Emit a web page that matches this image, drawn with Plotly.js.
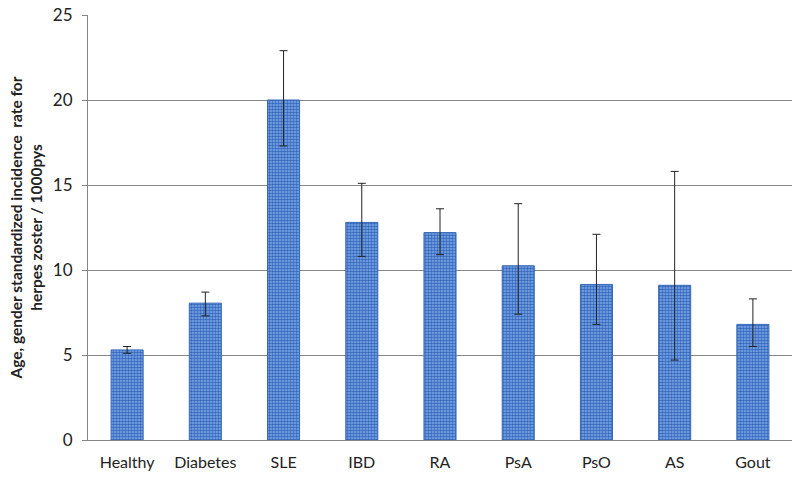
<!DOCTYPE html>
<html>
<head>
<meta charset="utf-8">
<script src="https://cdn.plot.ly/plotly-3.0.1.min.js"></script>
<style>html,body{margin:0;padding:0;background:#fff;}#chart{width:800px;height:481px;}</style>
</head>
<body>
<div id="chart"></div>
<script>
const categories = ["Healthy", "Diabetes", "SLE", "IBD", "RA", "PsA", "PsO", "AS", "Gout"];
const rates = [5.3, 8.05, 20.0, 12.8, 12.2, 10.25, 9.15, 9.1, 6.8];
const upperCI = [5.5, 8.7, 22.9, 15.1, 13.6, 13.9, 12.1, 15.8, 8.3];
const lowerCI = [5.1, 7.3, 17.3, 10.8, 10.9, 7.4, 6.8, 4.7, 5.5];
const yTicks = [0, 5, 10, 15, 20, 25];

const errPlus = upperCI.map((u, i) => u - rates[i]);
const errMinus = lowerCI.map((l, i) => rates[i] - l);

const trace = {
  type: "bar",
  x: categories,
  y: rates,
  marker: {
    color: "#6f9ce0",
    line: {color: "#3668b8", width: 1},
    pattern: {shape: ".", fgcolor: "#3468bb", bgcolor: "#80aaea", size: 3, solidity: 0.55}
  },
  error_y: {
    type: "data",
    symmetric: false,
    array: errPlus,
    arrayminus: errMinus,
    color: "#222222",
    thickness: 1,
    width: 4
  },
  hoverinfo: "skip"
};

const layout = {
  width: 800,
  height: 481,
  margin: {l: 88, r: 8, t: 15, b: 41},
  paper_bgcolor: "#ffffff",
  plot_bgcolor: "#ffffff",
  bargap: 0.59,
  showlegend: false,
  font: {family: "Lato, 'Open Sans', sans-serif", size: 16, color: "#222222"},
  xaxis: {
    showline: true,
    linecolor: "#868686",
    linewidth: 1,
    ticks: "",
    showgrid: false,
    tickfont: {size: 16, color: "#222222"},
    ticklabelstandoff: 8,
    fixedrange: true
  },
  yaxis: {
    range: [0, 25],
    tickvals: yTicks,
    ticktext: yTicks.map(String),
    showline: true,
    linecolor: "#868686",
    linewidth: 1,
    ticks: "outside",
    ticklen: 5,
    tickcolor: "#868686",
    showgrid: true,
    gridcolor: "#868686",
    gridwidth: 1,
    zeroline: false,
    tickfont: {size: 17, color: "#222222"},
    ticklabelstandoff: 6,
    title: {
      text: "<b>Age, gender standardized incidence  rate for<br>herpes zoster / 1000pys</b>",
      font: {size: 15.5, color: "#222222"},
      standoff: 6
    },
    fixedrange: true
  }
};

Plotly.newPlot("chart", [trace], layout, {displayModeBar: false, staticPlot: true});
</script>
</body>
</html>
